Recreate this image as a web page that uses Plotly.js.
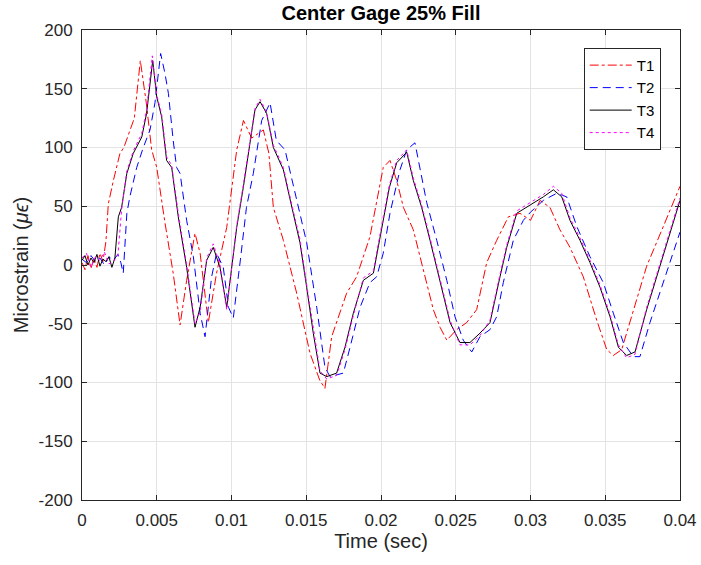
<!DOCTYPE html>
<html>
<head>
<meta charset="utf-8">
<script src="https://cdn.plot.ly/plotly-3.0.1.min.js"></script>
<style>html,body{margin:0;padding:0;background:#fff;}#chart{width:701px;height:565px;}</style>
</head>
<body>
<div id="chart"></div>
<script>
const seriesNames = ["T1", "T2", "T3", "T4"];

const t1Time = [0, 0.0002, 0.0004, 0.0006, 0.0008, 0.001, 0.0012, 0.0014, 0.0016, 0.00176, 0.0021, 0.00254, 0.0028, 0.0032, 0.0035, 0.0039, 0.0043, 0.00466, 0.005, 0.00555, 0.0061, 0.00656, 0.007, 0.00756, 0.0079, 0.00845, 0.009, 0.00968, 0.01035, 0.0108, 0.01135, 0.01213, 0.0125, 0.0128, 0.01347, 0.01436, 0.01525, 0.0159, 0.01625, 0.0167, 0.0177, 0.01837, 0.01926, 0.02015, 0.0206, 0.02105, 0.0215, 0.02216, 0.02283, 0.0235, 0.02395, 0.0244, 0.02506, 0.02573, 0.0264, 0.02707, 0.02774, 0.02852, 0.0293, 0.03, 0.03064, 0.0313, 0.03197, 0.03264, 0.03353, 0.03443, 0.0351, 0.03554, 0.0361, 0.03688, 0.03777, 0.03889, 0.04];
const t1Values = [2, -4, 8, -3, 6, -2, 10, 3, 20, 52, 72, 95, 100, 115, 125, 174, 138, 98, 83, 36, -7, -51, -13, 27, 10, -49, -7, 32, 98, 123, 108, 115, 95, 49, 21, -24, -75, -98, -105, -61, -24, -10, 24, 83, 89, 72, 49, 30, -4, -38, -53, -64, -55, -49, -38, 2, 21, 41, 44, 38, 55, 49, 30, 15, -10, -47, -72, -77, -72, -38, -1, 33, 67];

const t2Time = [0, 0.0003, 0.0006, 0.0009, 0.0012, 0.0015, 0.0018, 0.0021, 0.0024, 0.0026, 0.00276, 0.003, 0.0032, 0.00366, 0.0041, 0.00455, 0.00488, 0.00526, 0.00555, 0.00578, 0.0061, 0.00633, 0.00656, 0.007, 0.00745, 0.0079, 0.00823, 0.00867, 0.009, 0.00945, 0.0098, 0.01012, 0.0106, 0.011, 0.01146, 0.01202, 0.01258, 0.013, 0.01358, 0.01436, 0.01503, 0.0157, 0.01625, 0.01659, 0.01748, 0.01793, 0.0186, 0.01926, 0.01971, 0.02015, 0.0206, 0.02127, 0.02172, 0.02227, 0.02261, 0.02306, 0.02373, 0.0244, 0.02495, 0.0255, 0.02607, 0.02662, 0.02729, 0.02774, 0.02818, 0.02885, 0.02952, 0.03, 0.03086, 0.03175, 0.03242, 0.03309, 0.03398, 0.03487, 0.03554, 0.03621, 0.03688, 0.03732, 0.03799, 0.03889, 0.04];
const t2Values = [5, 2, 8, 3, 6, 0, 7, 4, 9, 2, -7, 44, 58, 83, 100, 115, 138, 180, 163, 146, 106, 83, 78, 38, 7, -41, -61, -10, 10, -2, -36, -45, 5, 49, 78, 123, 138, 106, 98, 55, 19, -36, -87, -95, -92, -70, -36, -15, -10, 10, 44, 81, 98, 104, 81, 53, 21, -13, -44, -64, -74, -61, -55, -44, -15, 21, 38, 45, 55, 61, 58, 33, 7, -15, -41, -66, -78, -78, -49, -15, 28];

const t3Time = [0, 0.0002, 0.0004, 0.0006, 0.0008, 0.001, 0.0012, 0.0014, 0.0016, 0.0018, 0.002, 0.0022, 0.00243, 0.00265, 0.003, 0.00343, 0.004, 0.00432, 0.00473, 0.005, 0.00533, 0.00566, 0.006, 0.00644, 0.007, 0.00756, 0.0079, 0.00834, 0.00878, 0.00923, 0.00968, 0.01012, 0.01035, 0.01079, 0.01124, 0.01157, 0.01191, 0.01235, 0.0128, 0.01347, 0.01413, 0.01458, 0.01503, 0.01547, 0.01592, 0.01637, 0.01703, 0.01759, 0.01815, 0.01882, 0.01949, 0.02005, 0.02056, 0.02105, 0.02172, 0.02216, 0.02272, 0.02328, 0.02395, 0.02462, 0.02528, 0.02595, 0.02662, 0.02729, 0.02796, 0.02841, 0.02908, 0.02974, 0.03052, 0.03086, 0.03153, 0.03209, 0.03264, 0.03331, 0.03398, 0.03465, 0.03532, 0.03588, 0.03643, 0.03699, 0.03777, 0.03866, 0.03933, 0.04];
const t3Values = [4, 8, 0, 6, 2, 9, -1, 5, 3, 7, -2, 6, 41, 49, 78, 95, 109, 129, 174, 143, 126, 89, 83, 41, -2, -53, -36, 4, 15, -2, -36, 10, 32, 66, 106, 132, 139, 129, 100, 81, 44, 19, -19, -58, -92, -95, -92, -70, -41, -13, -7, 32, 66, 87, 96, 72, 49, 21, -15, -49, -66, -66, -58, -49, -10, 15, 44, 49, 55, 58, 64, 58, 38, 21, 2, -19, -44, -70, -77, -74, -38, -1, 27, 55];

const t4Time = [0, 0.0003, 0.0006, 0.0009, 0.0012, 0.0015, 0.0018, 0.0021, 0.0024, 0.00265, 0.003, 0.00343, 0.004, 0.00432, 0.0047, 0.005, 0.00533, 0.00566, 0.006, 0.00644, 0.007, 0.00756, 0.0079, 0.00834, 0.00878, 0.00923, 0.00968, 0.01012, 0.01035, 0.01079, 0.01124, 0.01157, 0.01191, 0.01235, 0.0128, 0.01347, 0.01413, 0.01458, 0.01503, 0.01547, 0.01592, 0.01637, 0.01703, 0.01759, 0.01815, 0.01882, 0.01949, 0.02005, 0.02056, 0.02105, 0.02172, 0.02216, 0.02272, 0.02328, 0.02395, 0.02462, 0.02528, 0.02595, 0.02662, 0.02729, 0.02796, 0.02841, 0.02908, 0.02974, 0.03052, 0.03086, 0.03153, 0.03209, 0.03264, 0.03331, 0.03398, 0.03465, 0.03532, 0.03588, 0.03643, 0.03699, 0.03777, 0.03866, 0.03933, 0.04];
const t4Values = [6, 10, -2, 7, 4, 11, 1, 3, 8, 47, 80, 97, 112, 132, 178, 145, 128, 92, 85, 44, 0, -50, -40, 6, 18, 0, -38, 8, 34, 68, 108, 133, 141, 130, 102, 83, 46, 22, -17, -55, -90, -97, -94, -72, -43, -11, -5, 34, 68, 89, 98, 74, 51, 23, -13, -47, -68, -68, -60, -47, -8, 17, 46, 51, 57, 60, 67, 61, 40, 23, 4, -17, -42, -68, -79, -76, -36, 1, 29, 57];

const xTickVals = [0, 0.005, 0.01, 0.015, 0.02, 0.025, 0.03, 0.035, 0.04];
const xTickText = ["0", "0.005", "0.01", "0.015", "0.02", "0.025", "0.03", "0.035", "0.04"];
const yTickVals = [-200, -150, -100, -50, 0, 50, 100, 150, 200];
const yTickText = ["-200", "-150", "-100", "-50", "0", "50", "100", "150", "200"];

const FONT = "'Liberation Sans', Arial, Helvetica, sans-serif";

const traces = [
  {x: t1Time, y: t1Values, name: seriesNames[0], mode: "lines",
   line: {color: "#ff0000", width: 1, dash: "dashdot"}},
  {x: t2Time, y: t2Values, name: seriesNames[1], mode: "lines",
   line: {color: "#0000ff", width: 1, dash: "8px,5px"}},
  {x: t3Time, y: t3Values, name: seriesNames[2], mode: "lines",
   line: {color: "#000000", width: 1}},
  {x: t4Time, y: t4Values, name: seriesNames[3], mode: "lines",
   line: {color: "#ff00ff", width: 1, dash: "dot"}}
];

const axisCommon = {
  showline: true, linecolor: "#262626", linewidth: 1, mirror: "ticks",
  ticks: "inside", ticklen: 5, tickcolor: "#262626",
  showgrid: true, gridcolor: "#e3e3e3", gridwidth: 1,
  zeroline: false, tickfont: {family: FONT, size: 17, color: "#262626"}
};

const layout = {
  width: 701, height: 565,
  margin: {l: 82, r: 21, t: 30, b: 65},
  paper_bgcolor: "#ffffff", plot_bgcolor: "#ffffff",
  font: {family: FONT, color: "#262626"},
  title: {text: "<b>Center Gage 25% Fill</b>", font: {family: FONT, size: 20, color: "#000000"},
          x: 0.5 + (82 - 21) / 2 / 701, xanchor: "center", y: 0.977, yanchor: "middle"},
  xaxis: Object.assign({}, axisCommon, {
    range: [0, 0.04], tickvals: xTickVals, ticktext: xTickText, ticklabelstandoff: 5,
    title: {text: "Time (sec)", font: {family: FONT, size: 20, color: "#262626"}, standoff: 4}
  }),
  yaxis: Object.assign({}, axisCommon, {
    range: [-200, 200], tickvals: yTickVals, ticktext: yTickText, ticklabelstandoff: 5,
    title: {text: "Microstrain (<i>μϵ</i>)", font: {family: FONT, size: 20, color: "#262626"}, standoff: 4}
  }),
  showlegend: true,
  legend: {x: 0.839, y: 0.962, xanchor: "left", yanchor: "top",
           bgcolor: "#ffffff", bordercolor: "#262626", borderwidth: 1,
           font: {family: FONT, size: 15, color: "#000000"},
           tracegroupgap: 0, itemwidth: 42}
};

Plotly.newPlot("chart", traces, layout, {displayModeBar: false, staticPlot: true});
</script>
</body>
</html>
